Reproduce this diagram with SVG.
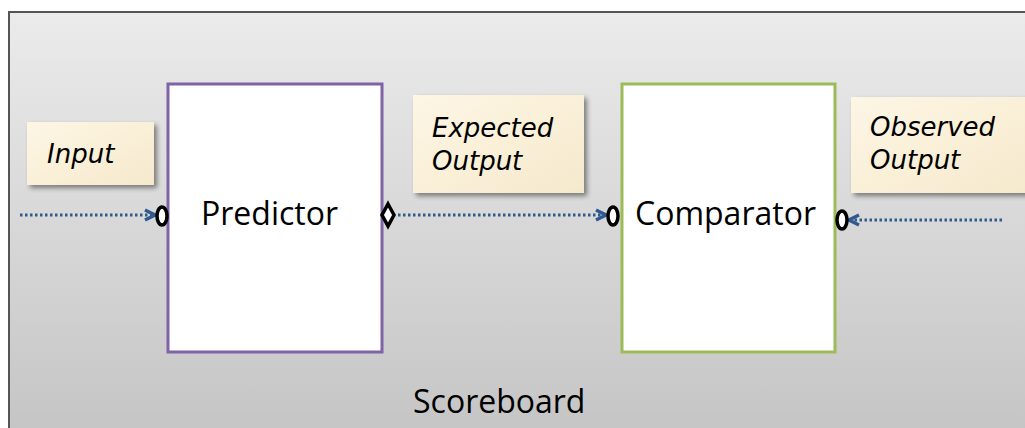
<svg xmlns="http://www.w3.org/2000/svg" width="1025" height="428" viewBox="0 0 1025 428">
  <defs>
    <linearGradient id="panelFill" x1="0" y1="0" x2="0" y2="1">
      <stop offset="0" stop-color="#ebebeb"/>
      <stop offset="1" stop-color="#c4c4c4"/>
    </linearGradient>
    <linearGradient id="noteFill" x1="0" y1="0" x2="1" y2="1">
      <stop offset="0" stop-color="#fdf6e6"/>
      <stop offset="0.5" stop-color="#faf0d8"/>
      <stop offset="1" stop-color="#f5e9cd"/>
    </linearGradient>
    <filter id="noteShadow" x="-10%" y="-10%" width="125%" height="130%">
      <feGaussianBlur in="SourceAlpha" stdDeviation="2.5"/>
      <feOffset dx="3" dy="3" result="b"/>
      <feComponentTransfer><feFuncA type="linear" slope="0.45"/></feComponentTransfer>
      <feMerge><feMergeNode/><feMergeNode in="SourceGraphic"/></feMerge>
    </filter>
    <marker id="arrowHead" viewBox="0 0 14 14" refX="12" refY="7" markerWidth="14" markerHeight="14" markerUnits="userSpaceOnUse" orient="auto">
      <path d="M2,2 L12,7 L2,12" fill="none" stroke="#2e5a8e" stroke-width="3.5" stroke-linejoin="miter"/>
    </marker>
  </defs>
  <style>
    .note { fill: url(#noteFill); filter: url(#noteShadow); }
    .noteText { font-family: "DejaVu Sans", "Noto Sans", sans-serif; font-style: italic; font-size: 26px; fill: #000; }
    .block { fill: #ffffff; stroke-width: 3; }
    .blockText { font-family: "Open Sans", "Liberation Sans", sans-serif; font-size: 32px; fill: #000; }
    .flow { stroke: #2e5a8e; stroke-width: 3.2; stroke-dasharray: 2.5 2.5; fill: none; }
    .port { fill: #ffffff; stroke: #000; stroke-width: 3.5; }
  </style>

  <rect width="1025" height="428" fill="#ffffff"/>

  <!-- scoreboard panel -->
  <g id="scoreboard">
    <rect x="9" y="12" width="1030" height="430" fill="url(#panelFill)" stroke="#555" stroke-width="2"/>
    <text x="413" y="413" font-family="Open Sans, Liberation Sans, sans-serif" font-size="32" fill="#000">Scoreboard</text>
  </g>

  <!-- labels -->
  <g id="inputNote">
    <rect class="note" x="27" y="122" width="127" height="63"/>
    <text class="noteText" x="47" y="163">Input</text>
  </g>
  <g id="expectedNote">
    <rect class="note" x="413" y="95" width="171" height="98"/>
    <text class="noteText" x="432" y="137">Expected</text>
    <text class="noteText" x="432" y="170">Output</text>
  </g>
  <g id="observedNote">
    <rect class="note" x="851" y="97" width="180" height="96"/>
    <text class="noteText" x="870" y="136">Observed</text>
    <text class="noteText" x="870" y="169">Output</text>
  </g>

  <!-- blocks -->
  <g id="predictor">
    <rect class="block" x="168" y="84" width="214" height="268" stroke="#7f63a6"/>
    <text class="blockText" x="201" y="225">Predictor</text>
  </g>
  <g id="comparator">
    <rect class="block" x="622" y="84" width="213" height="268" stroke="#9bbb59"/>
    <text class="blockText" x="635" y="225">Comparator</text>
  </g>

  <!-- connectors -->
  <g id="connectors">
    <line class="flow" x1="20" y1="215" x2="155" y2="215" marker-end="url(#arrowHead)"/>
    <line class="flow" x1="398" y1="215" x2="606" y2="215" marker-end="url(#arrowHead)"/>
    <line class="flow" x1="1002" y1="220" x2="849" y2="220" marker-end="url(#arrowHead)"/>
    <ellipse class="port" cx="162" cy="216" rx="5" ry="9"/>
    <path class="port" d="M388,204 L394,215 L388,226 L382,215 Z"/>
    <ellipse class="port" cx="613" cy="216" rx="5" ry="9"/>
    <ellipse class="port" cx="842" cy="220" rx="5" ry="9"/>
  </g>
</svg>
